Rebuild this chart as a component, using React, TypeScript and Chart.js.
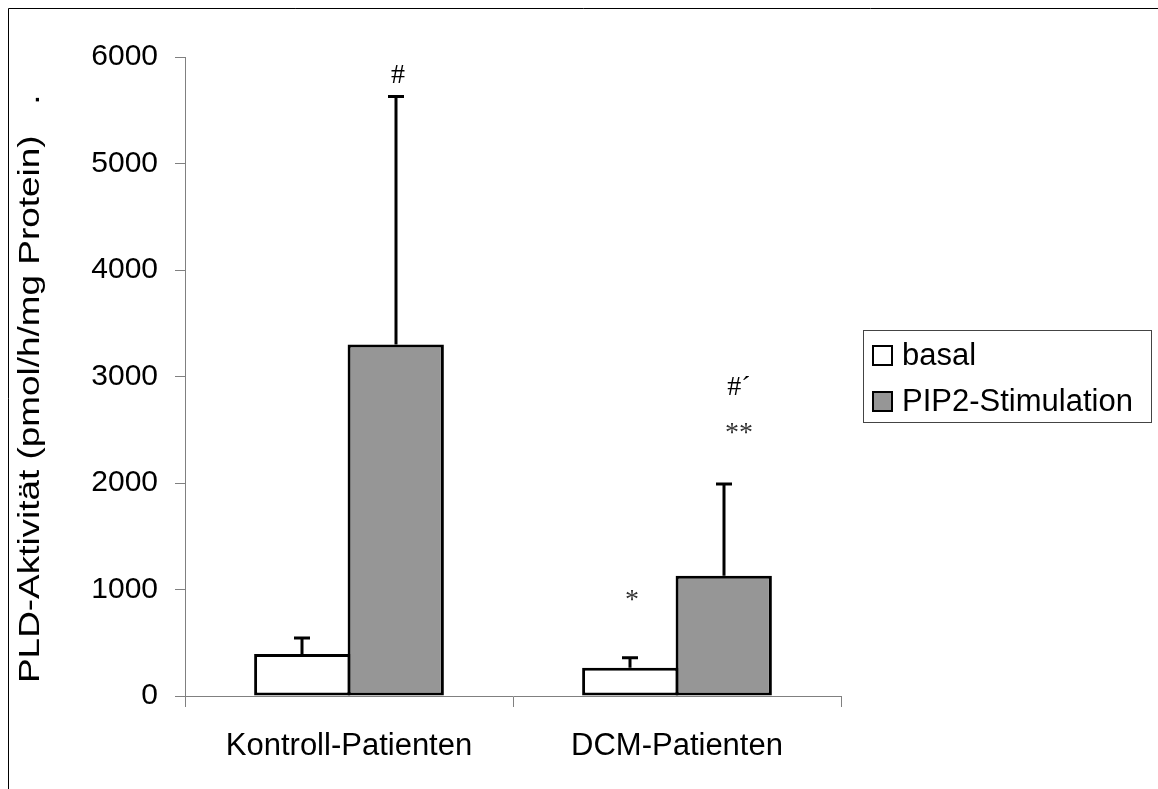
import React, { useEffect, useRef } from "react";
import { Chart, registerables } from "chart.js";

Chart.register(...registerables);

// PLD activity per patient group, basal vs. PIP2 stimulated
const categories = ["Kontroll-Patienten", "DCM-Patienten"];
const seriesNames = ["basal", "PIP2-Stimulation"];
const basalValues = [395, 265];
const pip2Values = [3300, 1130];
// upward standard deviations
const basalErrors = [150, 95];
const pip2Errors = [2330, 860];
// significance marks above each bar (per category)
const basalMarks: string[][] = [[], ["*"]];
const pip2Marks: string[][] = [["#"], ["**", "#´"]];
const yMin = 0;
const yMax = 6000;
const yStep = 1000;
const yTitle = "PLD-Aktivität (pmol/h/mg Protein)   .";

const SANS = "'Liberation Sans', Arial, sans-serif";
const SERIF = "'Liberation Serif', 'Times New Roman', serif";
const FILLS = ["#ffffff", "#969696"];
const AXIS_GRAY = "#808080";

const W = 1150;
const H = 781;

export default function App() {
  const ref = useRef<HTMLCanvasElement | null>(null);

  useEffect(() => {
    const canvas = ref.current;
    if (!canvas) return;

    const errors = [basalErrors, pip2Errors];
    const marks = [basalMarks, pip2Marks];
    // vertical offsets (px above the error cap) for stacked marks
    const markOffsets = [[-57], [-21], [-50, -96]];

    const decorations = {
      id: "decorations",
      beforeDraw(chart: any) {
        const ctx = chart.ctx;
        ctx.save();
        ctx.fillStyle = "#ffffff";
        ctx.fillRect(0, 0, chart.width, chart.height);
        // outer frame
        ctx.strokeStyle = "#000000";
        ctx.lineWidth = 1;
        ctx.beginPath();
        ctx.moveTo(0.5, chart.height);
        ctx.lineTo(0.5, 0.5);
        ctx.lineTo(chart.width, 0.5);
        ctx.stroke();
        ctx.restore();
      },
      afterDatasetsDraw(chart: any) {
        const ctx = chart.ctx;
        const yScale = chart.scales.y;
        ctx.save();
        chart.data.datasets.forEach((ds: any, di: number) => {
          const meta = chart.getDatasetMeta(di);
          meta.data.forEach((bar: any, i: number) => {
            const v = ds.data[i] as number;
            const top = yScale.getPixelForValue(v + errors[di][i]);
            const x = Math.round(bar.x);
            ctx.strokeStyle = "#000000";
            ctx.lineWidth = 3;
            ctx.beginPath();
            ctx.moveTo(x, bar.y);
            ctx.lineTo(x, top);
            ctx.moveTo(x - 8, top);
            ctx.lineTo(x + 8, top);
            ctx.stroke();

            const list = marks[di][i];
            list.forEach((m: string, k: number) => {
              let offs: number[];
              if (di === 0) offs = markOffsets[0];
              else offs = i === 0 ? markOffsets[1] : markOffsets[2];
              ctx.fillStyle = m.startsWith("*") ? "#333333" : "#000000";
              ctx.font = `28px ${SERIF}`;
              ctx.textAlign = "center";
              ctx.textBaseline = "middle";
              const dx = di === 1 && i === 1 ? 15 : 2;
              ctx.fillText(m, x + dx, top + offs[k]);
            });
          });
        });
        ctx.restore();
      },
      afterDraw(chart: any) {
        const ctx = chart.ctx;
        ctx.save();
        // rotated axis title
        ctx.fillStyle = "#000000";
        ctx.font = `30px ${SANS}`;
        ctx.translate(23, 675);
        ctx.rotate(-Math.PI / 2);
        ctx.scale(1.23, 1);
        ctx.textAlign = "left";
        ctx.textBaseline = "middle";
        ctx.fillText(yTitle, 0, 0);
        ctx.restore();

        // legend box
        ctx.save();
        const lx = 855;
        const ly = 322;
        const lw = 288;
        const lh = 92;
        ctx.strokeStyle = "#444444";
        ctx.lineWidth = 1;
        ctx.strokeRect(lx + 0.5, ly + 0.5, lw, lh);
        ctx.font = `31px ${SANS}`;
        ctx.textAlign = "left";
        ctx.textBaseline = "middle";
        chart.data.datasets.forEach((ds: any, di: number) => {
          const cy = ly + 25 + di * 46;
          ctx.fillStyle = ds.backgroundColor;
          ctx.fillRect(lx + 10, cy - 9, 19, 19);
          ctx.strokeStyle = "#000000";
          ctx.lineWidth = 2;
          ctx.strokeRect(lx + 10, cy - 9, 19, 19);
          ctx.fillStyle = "#000000";
          ctx.fillText(ds.label, lx + 39, cy + 1);
        });
        ctx.restore();
      },
    };

    const chart = new Chart(canvas, {
      type: "bar",
      data: {
        labels: categories,
        datasets: [
          {
            label: seriesNames[0],
            data: basalValues,
            backgroundColor: FILLS[0],
            borderColor: "#000000",
            borderWidth: 3,
            borderSkipped: false,
          },
          {
            label: seriesNames[1],
            data: pip2Values,
            backgroundColor: FILLS[1],
            borderColor: "#000000",
            borderWidth: 3,
            borderSkipped: false,
          },
        ],
      },
      options: {
        responsive: false,
        animation: false,
        events: [],
        layout: { padding: { left: 0, top: 49, right: 317, bottom: 0 } },
        datasets: {
          bar: { categoryPercentage: 0.57, barPercentage: 1.03 },
        },
        plugins: {
          legend: { display: false },
          tooltip: { enabled: false },
          title: { display: false },
        },
        scales: {
          x: {
            offset: true,
            afterFit(scale: any) {
              scale.height = 93;
            },
            grid: {
              offset: true,
              drawOnChartArea: false,
              drawTicks: true,
              tickLength: 11,
              color: AXIS_GRAY,
              lineWidth: 1,
            },
            border: { display: true, color: AXIS_GRAY, width: 1 },
            ticks: {
              color: "#000000",
              font: { family: SANS, size: 31 },
              padding: 21,
              maxRotation: 0,
            },
          },
          y: {
            min: yMin,
            max: yMax,
            afterFit(scale: any) {
              scale.width = 177;
            },
            grid: {
              drawOnChartArea: false,
              drawTicks: true,
              tickLength: 10,
              color: AXIS_GRAY,
              lineWidth: 1,
            },
            border: { display: true, color: AXIS_GRAY, width: 1 },
            ticks: {
              stepSize: yStep,
              color: "#000000",
              font: { family: SANS, size: 30 },
              padding: 17,
              callback: (v: any) => String(v),
            },
          },
        },
      },
      plugins: [decorations],
    });

    return () => chart.destroy();
  }, []);

  return (
    <div style={{ position: "absolute", left: 8, top: 8, width: W, height: H }}>
      <canvas ref={ref} width={W} height={H} style={{ display: "block" }} />
    </div>
  );
}
